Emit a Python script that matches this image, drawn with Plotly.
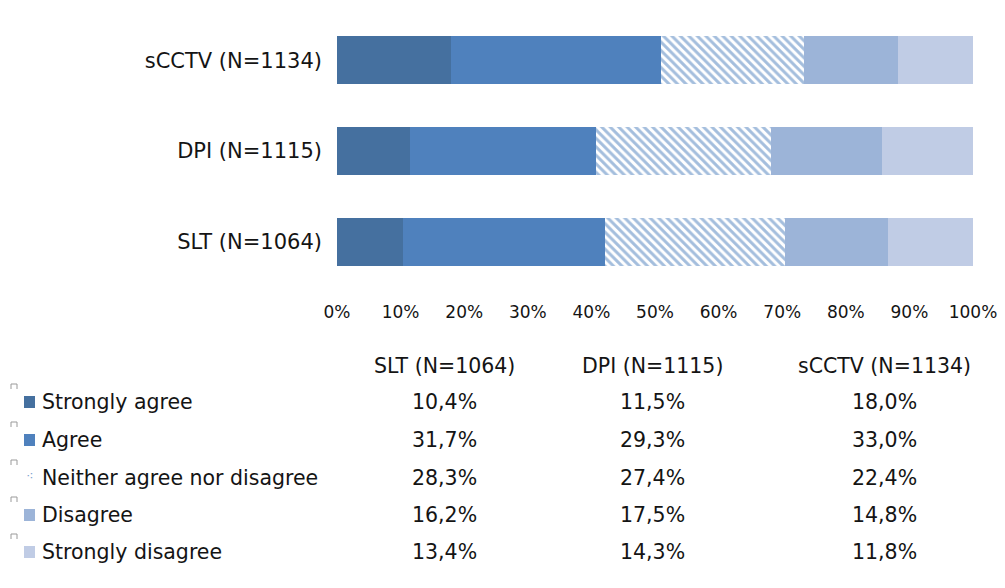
import plotly.graph_objects as go

# Survey groups (bottom to top on the chart) and response categories
groups = ["SLT (N=1064)", "DPI (N=1115)", "sCCTV (N=1134)"]
responses = ["Strongly agree", "Agree", "Neither agree nor disagree",
             "Disagree", "Strongly disagree"]

# Percentages per response, ordered like `groups`
strongly_agree = [10.4, 11.5, 18.0]
agree = [31.7, 29.3, 33.0]
neither = [28.3, 27.4, 22.4]
disagree = [16.2, 17.5, 14.8]
strongly_disagree = [13.4, 14.3, 11.8]

series = [strongly_agree, agree, neither, disagree, strongly_disagree]
colors = ["#45709f", "#4f81bd", "#ffffff", "#9cb4d8", "#c0cce5"]

x_ticks = list(range(0, 101, 10))
x_tick_labels = [f"{t}%" for t in x_ticks]

FONT = "DejaVu Sans"
TXT = "#141414"

fig = go.Figure()
for name, vals, col in zip(responses, series, colors):
    marker = dict(color=col, line=dict(width=0))
    if name.startswith("Neither"):
        marker["pattern"] = dict(shape="\\", fgcolor="#4a7dbc", bgcolor="#ffffff",
                                 size=6, solidity=0.5)
    fig.add_trace(go.Bar(y=groups, x=vals, name=name, orientation="h",
                         marker=marker, width=0.53, showlegend=False,
                         hoverinfo="x+name"))

# Plot area geometry in pixels (used to place the table below the chart)
W, H = 1005, 588
L, R, T, B = 337, 32, 15, 301
PW, PH = W - L - R, H - T - B


def px(x):
    return (x - L) / PW


def py(y):
    return (H - B - y) / PH


annotations = []
col_x = [444, 652, 884]
head_y = 366
row_y = [402, 440, 478, 515, 552]
TS = 20.5

# Header row: group names
for gi, cx in enumerate(col_x):
    annotations.append(dict(x=px(cx), y=py(head_y), xref="paper", yref="paper",
                            text=groups[gi], showarrow=False,
                            font=dict(family=FONT, size=TS, color=TXT),
                            xanchor="center", yanchor="middle"))

shapes = []
for ri, (name, vals, col) in enumerate(zip(responses, series, colors)):
    yy = row_y[ri]
    annotations.append(dict(x=px(40), y=py(yy), xref="paper", yref="paper",
                            text=name, showarrow=False,
                            font=dict(family=FONT, size=TS, color=TXT),
                            xanchor="left", yanchor="middle"))
    for gi, cx in enumerate(col_x):
        annotations.append(dict(x=px(cx), y=py(yy), xref="paper", yref="paper",
                                text=f"{vals[gi]:.1f}%".replace(".", ","),
                                showarrow=False,
                                font=dict(family=FONT, size=TS, color=TXT),
                                xanchor="center", yanchor="middle"))
    # legend key
    if name.startswith("Neither"):
        annotations.append(dict(x=px(30), y=py(yy - 3), xref="paper", yref="paper",
                                text="⁖", showarrow=False,
                                font=dict(family=FONT, size=13, color="#7fa3cf"),
                                xanchor="center", yanchor="middle"))
    else:
        shapes.append(dict(type="rect", xref="paper", yref="paper",
                           x0=px(24), x1=px(35), y0=py(yy + 6), y1=py(yy - 6),
                           fillcolor=col, line=dict(width=0)))
    # small corner marks above each legend row
    shapes.append(dict(type="path", xref="paper", yref="paper",
                       path=f"M {px(11)},{py(yy - 13)} L {px(11)},{py(yy - 18)} "
                            f"L {px(17)},{py(yy - 18)} L {px(17)},{py(yy - 13)}",
                       line=dict(color="#9a9a9a", width=1)))

fig.update_layout(
    barmode="stack",
    width=W, height=H,
    margin=dict(l=L, r=R, t=T, b=B),
    paper_bgcolor="white", plot_bgcolor="white",
    font=dict(family=FONT, size=17, color=TXT),
    bargap=0.47,
    xaxis=dict(range=[0, 100], tickvals=x_ticks, ticktext=x_tick_labels,
               showgrid=False, zeroline=False, showline=False,
               ticks="outside", ticklen=10, tickcolor="rgba(0,0,0,0)",
               tickfont=dict(family=FONT, size=17, color=TXT),
               automargin=False, fixedrange=True),
    yaxis=dict(showgrid=False, zeroline=False, showline=False, ticks="",
               ticklabelstandoff=14,
               tickfont=dict(family=FONT, size=21, color=TXT),
               automargin=False, fixedrange=True),
    annotations=annotations,
    shapes=shapes,
)

fig.write_html("out.html")
